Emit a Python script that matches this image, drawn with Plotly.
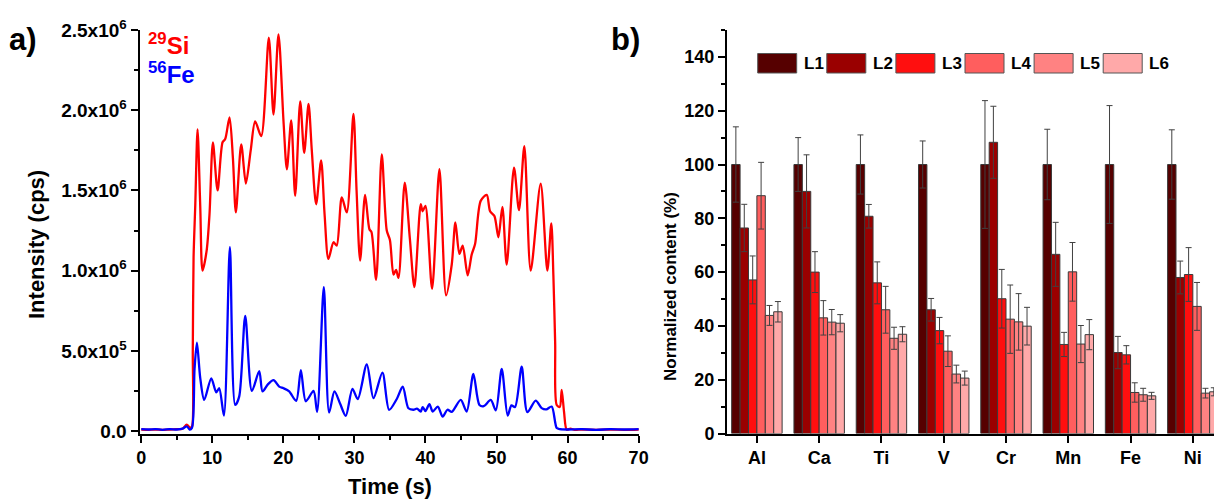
import plotly.graph_objects as go

# ---------------- data: panel a (time-resolved signals, values in 1e6 cps) ----------------
t_si = [0, 1, 2, 3, 4, 5, 5.8, 6.4, 6.9, 7.15, 7.25, 7.36, 7.6, 7.92, 8.3, 8.62, 9.2, 9.6,
        10.08, 10.74, 11.44, 11.81, 12.42, 12.9, 13.31, 14.07, 14.72, 15.4, 16.03, 16.88,
        17.95, 18.61, 19.31, 20.02, 20.49, 21.10, 21.66, 22.37, 22.93, 23.54, 24.0, 24.61,
        25.31, 25.8, 26.34, 27.05, 27.5, 28.22, 28.92, 29.86, 30.3, 30.80, 31.50, 32.11,
        32.4, 33.05, 33.85, 34.55, 35.0, 35.5, 35.86, 36.2, 37.08, 37.8, 38.44, 39.33, 39.6,
        39.99, 40.93, 41.96, 42.9, 43.7, 44.21, 44.77, 45.24, 45.94, 46.5, 46.98, 47.77,
        48.62, 49.09, 49.70, 50.26, 50.82, 51.43, 52.46, 53.16, 53.91, 54.81, 56.21, 57.15,
        57.71, 58.0, 58.25, 58.47, 58.9, 59.17, 59.5, 59.87, 60.4, 61, 62, 64, 66, 68, 70]
si = [0.010, 0.008, 0.010, 0.007, 0.010, 0.012, 0.015, 0.040, 0.020, 0.030, 0.50, 1.08, 1.41,
      1.88, 1.40, 1.00, 1.125, 1.35, 1.80, 1.50, 1.80, 1.82, 1.956, 1.70, 1.363, 1.787, 1.543,
      1.75, 1.93, 1.838, 2.452, 1.973, 2.473, 1.93, 1.632, 1.936, 1.466, 2.055, 1.735, 2.039,
      1.75, 1.414, 1.687, 1.35, 1.073, 1.177, 1.156, 1.456, 1.363, 1.977, 1.50, 1.063, 1.472,
      1.258, 1.24, 0.943, 1.725, 1.25, 1.19, 0.975, 1.005, 0.955, 1.549, 1.20, 0.897, 1.414,
      1.37, 1.404, 0.887, 1.632, 0.846, 1.04, 1.301, 1.104, 1.156, 0.97, 1.10, 1.166, 1.435,
      1.472, 1.37, 1.34, 1.208, 1.398, 1.038, 1.642, 1.377, 1.776, 1.00, 1.543, 1.00, 1.295,
      0.97, 0.55, 0.163, 0.15, 0.256, 0.12, 0.010, 0.015, 0.008, 0.010, 0.008, 0.010, 0.008,
      0.010]

t_fe = [0, 1, 2, 3, 4, 5, 5.8, 6.42, 6.8, 7.13, 7.5, 7.83, 8.3, 8.86, 9.85, 10.55, 10.97,
        11.63, 12.47, 13.22, 13.78, 14.63, 15.57, 16.6, 17.07, 17.82, 18.61, 19.41, 20.02,
        20.82, 21.8, 22.46, 23.16, 24.24, 24.75, 25.69, 26.44, 27.19, 27.99, 28.78, 29.72,
        30.47, 31.74, 32.68, 33.94, 34.88, 35.96, 36.8, 37.6, 38.3, 38.8, 39.33, 39.6, 40.0,
        40.55, 41.02, 41.73, 42.43, 43.09, 43.7, 44.96, 45.8, 46.74, 47.59, 48.2, 49.18, 49.9,
        50.73, 51.57, 52.1, 52.6, 53.54, 54.34, 55.51, 56.35, 57.0, 57.76, 58.47, 58.94, 60,
        62, 64, 66, 68, 70]
fe = [0.012, 0.010, 0.012, 0.008, 0.012, 0.010, 0.015, 0.030, 0.010, 0.020, 0.39, 0.552,
      0.33, 0.194, 0.329, 0.242, 0.267, 0.097, 1.146, 0.163, 0.215, 0.718, 0.25, 0.374, 0.247,
      0.291, 0.318, 0.277, 0.267, 0.247, 0.188, 0.38, 0.186, 0.25, 0.12, 0.897, 0.116, 0.247,
      0.17, 0.095, 0.263, 0.20, 0.416, 0.205, 0.364, 0.132, 0.20, 0.277, 0.142, 0.133, 0.14,
      0.122, 0.15, 0.125, 0.168, 0.122, 0.153, 0.09, 0.133, 0.12, 0.194, 0.122, 0.356, 0.163,
      0.155, 0.194, 0.13, 0.387, 0.097, 0.16, 0.15, 0.401, 0.118, 0.190, 0.143, 0.135, 0.153,
      0.019, 0.012, 0.010, 0.012, 0.008, 0.012, 0.010, 0.012]

time_ticks = [0, 10, 20, 30, 40, 50, 60, 70]
int_tickvals = [0, 5e5, 1e6, 1.5e6, 2e6, 2.5e6]
int_ticktext = ["0.0", "5.0x10<sup>5</sup>", "1.0x10<sup>6</sup>", "1.5x10<sup>6</sup>",
                "2.0x10<sup>6</sup>", "2.5x10<sup>6</sup>"]

# ---------------- data: panel b (normalized content, %) ----------------
elements = ["Al", "Ca", "Ti", "V", "Cr", "Mn", "Fe", "Ni"]
levels = ["L1", "L2", "L3", "L4", "L5", "L6"]
L1 = [100, 100, 100, 100, 100, 100, 100, 100]
L2 = [76.4, 90, 80.75, 46, 108.25, 66.6, 30.1, 58]
L3 = [57.1, 60, 56, 38.25, 50.1, 33.1, 29.25, 59.1]
L4 = [88.4, 43, 46, 30.6, 42.5, 60.1, 15.25, 47.25]
L5 = [43.9, 41.4, 35.4, 22.1, 41.5, 33.25, 14.4, 15]
L6 = [45.25, 41, 36.9, 20.6, 39.9, 36.75, 14, 15.5]
L1_err = [14, 10, 11, 8.75, 23.75, 13.1, 21.9, 12.9]
L2_err = [8.8, 13.6, 4.4, 4.2, 13.4, 11.9, 6, 6.1]
L3_err = [8.9, 7.6, 7.8, 4.9, 10.9, 4.5, 3.4, 10]
L4_err = [12.4, 6.4, 8.7, 5.7, 12.7, 10.9, 3.6, 8.9]
L5_err = [3.7, 4.7, 4.1, 3.3, 10.5, 6.9, 2.4, 1.8]
L6_err = [3.8, 3.2, 2.8, 2.6, 7, 5.6, 1.3, 1.5]
content_ticks = [0, 20, 40, 60, 80, 100, 120, 140]

level_colors = ["#560000", "#9a0000", "#ff0f0f", "#ff5e5e", "#ff8282", "#ffa9a9"]

# ---------------- figure ----------------
W, H = 1214, 500
FONT = "Liberation Sans, Arial, sans-serif"

def px(x):
    return x / W

def py(y):
    return 1 - y / H

fig = go.Figure()

fig.add_trace(go.Scatter(x=t_si, y=[v * 1e6 for v in si], mode="lines",
                         line=dict(color="#ff0000", width=2.3, shape="spline", smoothing=0.8),
                         xaxis="x", yaxis="y", showlegend=False))
fig.add_trace(go.Scatter(x=t_fe, y=[v * 1e6 for v in fe], mode="lines",
                         line=dict(color="#0000ff", width=2.3, shape="spline", smoothing=0.8),
                         xaxis="x", yaxis="y", showlegend=False))

series = [L1, L2, L3, L4, L5, L6]
errors = [L1_err, L2_err, L3_err, L4_err, L5_err, L6_err]
for i, (name, vals, errs) in enumerate(zip(levels, series, errors)):
    fig.add_trace(go.Bar(x=elements, y=vals, name=name,
                         marker=dict(color=level_colors[i], line=dict(color="#3a3a3a", width=1)),
                         error_y=dict(type="data", array=errs, visible=True, color="#404040",
                                      thickness=1, width=3),
                         xaxis="x2", yaxis="y2", showlegend=False))

def axis_style(size):
    return dict(showline=True, linewidth=2, linecolor="black", showgrid=False,
                zeroline=False, ticks="outside", tickwidth=2, ticklen=7, tickcolor="black",
                automargin=False,
                tickfont=dict(family=FONT, size=size, color="black", weight="bold"))

y_dom = [py(433.5), py(30)]

fig.update_layout(
    template="none",
    width=W, height=H,
    margin=dict(l=0, r=0, t=0, b=0, autoexpand=False),
    paper_bgcolor="white", plot_bgcolor="white",
    barmode="group", bargap=0.19, bargroupgap=0,
    xaxis=dict(domain=[px(139.5), px(639)], range=[-0.25, 70.05], tickvals=time_ticks,
               minor=dict(dtick=5, ticks="outside", ticklen=4, tickwidth=2, tickcolor="black"),
               anchor="y", **axis_style(18)),
    yaxis=dict(domain=y_dom, range=[-1.5e4, 2.5e6], tickvals=int_tickvals, ticktext=int_ticktext,
               minor=dict(dtick=2.5e5, ticks="outside", ticklen=4, tickwidth=2, tickcolor="black"),
               anchor="x", **axis_style(19)),
    xaxis2=dict(domain=[px(727), 1.0], range=[-0.48, 7.34], type="category",
                anchor="y2", **axis_style(18)),
    yaxis2=dict(domain=y_dom, range=[0, 150], tickvals=content_ticks,
                minor=dict(dtick=10, ticks="outside", ticklen=4, tickwidth=2, tickcolor="black"),
                anchor="x2", **axis_style(18)),
)

ann = []
def label(text, x, y, size, color="black", angle=0, xanchor="center"):
    ann.append(dict(text=text, x=px(x), y=py(y), xref="paper", yref="paper", showarrow=False,
                    textangle=angle, xanchor=xanchor, yanchor="middle",
                    font=dict(family=FONT, size=size, color=color)))

label("<b>a)</b>", 7, 40, 31, xanchor="left")
label("<b>b)</b>", 609, 40, 31, xanchor="left")
label("<b>Time (s)</b>", 390, 486, 22)
label("<b>Intensity (cps)</b>", 36, 245, 22, angle=-90)
label("<b>Normalized content (%)</b>", 670, 287, 17, angle=-90)
label("<b><sup>29</sup>Si</b>", 146, 44, 24, color="#ff0000", xanchor="left")
label("<b><sup>56</sup>Fe</b>", 146, 73, 24, color="#0000ff", xanchor="left")

# legend for panel b (boxes + labels)
shapes = []
for i, name in enumerate(levels):
    x0 = 757.7 + i * 69.1
    shapes.append(dict(type="rect", xref="paper", yref="paper",
                       x0=px(x0), x1=px(x0 + 39), y0=py(73), y1=py(53.5),
                       fillcolor=level_colors[i], line=dict(color="#555555", width=1)))
    label("<b>" + name + "</b>", x0 + 44, 63.5, 17, xanchor="left")

fig.update_layout(annotations=ann, shapes=shapes)

fig.write_html("out.html", config={"displayModeBar": False},
               post_script="document.body.style.margin='0';document.body.style.overflow='hidden';")
